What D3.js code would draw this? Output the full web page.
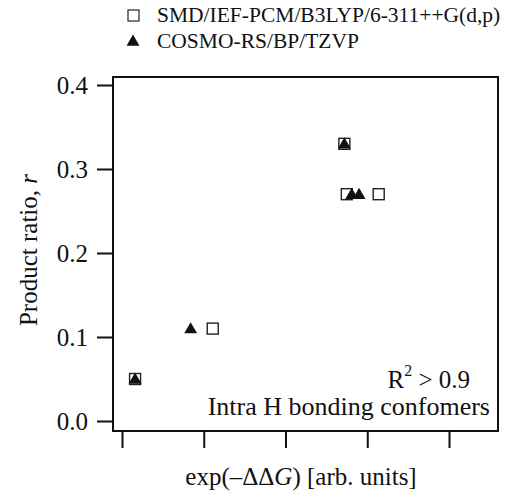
<!DOCTYPE html>
<html lang="en">
  <head>
    <meta charset="utf-8">
    <title>Chart</title>
    <script type="text/javascript" src="https://d3js.org/d3.v7.min.js"></script>
    <style>
      body { margin: 0; background: #fff; }
      svg text { font-family: "Liberation Serif", "Times New Roman", serif !important; fill: #111; }
    </style>
  </head>
  <body>
    <script type="text/javascript">
    var w = 507;
    var h = 496;

    var seriesNames = ["SMD/IEF-PCM/B3LYP/6-311++G(d,p)", "COSMO-RS/BP/TZVP"];
    // x in arbitrary units (tick spacing = 1), y = product ratio r
    var smdX = [0.16, 1.11, 2.72, 2.75, 3.14];
    var smdY = [0.05, 0.11, 0.33, 0.27, 0.27];
    var cosmoX = [0.16, 0.84, 2.72, 2.81, 2.90];
    var cosmoY = [0.05, 0.11, 0.33, 0.27, 0.27];
    var yTicks = [0.0, 0.1, 0.2, 0.3, 0.4];
    var xTicks = [0, 1, 2, 3, 4];

    var frame = {left: 113, right: 498, top: 77, bottom: 431};

    var xscale = d3.scaleLinear().domain([0, 4]).range([122, 449]);
    var yscale = d3.scaleLinear().domain([0, 0.4]).range([421, 85]);

    var svg = d3.select("body").append("svg").attr("width", w).attr("height", h);

    // frame
    svg.append("rect")
      .attr("x", frame.left).attr("y", frame.top)
      .attr("width", frame.right - frame.left).attr("height", frame.bottom - frame.top)
      .attr("fill", "none").attr("stroke", "#111").attr("stroke-width", 2);

    // y axis, outside the frame
    var yAxis = d3.axisLeft(yscale).tickValues(yTicks).tickFormat(d3.format(".1f"))
      .tickSize(16).tickPadding(9);
    var gy = svg.append("g").attr("transform", "translate(" + frame.left + ",0)").call(yAxis)
      .attr("font-family", "Liberation Serif").attr("font-size", 25);
    gy.select(".domain").remove();
    gy.selectAll("line").attr("stroke", "#111").attr("stroke-width", 2);
    gy.selectAll("text").attr("fill", "#111")
      .style("font-family", "'Liberation Serif', serif", "important");

    // x axis, no labels
    var xAxis = d3.axisBottom(xscale).tickValues(xTicks).tickFormat("").tickSize(17);
    var gx = svg.append("g").attr("transform", "translate(0," + frame.bottom + ")").call(xAxis);
    gx.select(".domain").remove();
    gx.selectAll("line").attr("stroke", "#111").attr("stroke-width", 2);

    var smd = smdX.map(function(x, i) { return [x, smdY[i]]; });
    var cosmo = cosmoX.map(function(x, i) { return [x, cosmoY[i]]; });

    var sq = 11;
    svg.selectAll("rect.smd")
      .data(smd)
      .enter()
      .append("rect")
      .attr("class", "smd")
      .attr("x", function(d) { return xscale(d[0]) - sq / 2; })
      .attr("y", function(d) { return yscale(d[1]) - sq / 2; })
      .attr("width", sq).attr("height", sq)
      .attr("fill", "#fff").attr("stroke", "#222").attr("stroke-width", 1.4);

    var tri = d3.symbol().type(d3.symbolTriangle).size(72);
    svg.selectAll("path.cosmo")
      .data(cosmo)
      .enter()
      .append("path")
      .attr("class", "cosmo")
      .attr("d", tri)
      .attr("transform", function(d) { return "translate(" + xscale(d[0]) + "," + (yscale(d[1]) + 1) + ")"; })
      .attr("fill", "#111");

    // legend
    svg.append("rect").attr("x", 128).attr("y", 10).attr("width", 11).attr("height", 11)
      .attr("fill", "#fff").attr("stroke", "#222").attr("stroke-width", 1.2);
    svg.append("text").attr("x", 157).attr("y", 22).style("font-size", "21.5px").text(seriesNames[0]);
    svg.append("path").attr("d", tri).attr("transform", "translate(133,42)").attr("fill", "#111");
    svg.append("text").attr("x", 157).attr("y", 48).style("font-size", "21.5px").text(seriesNames[1]);

    // annotations
    var r2 = svg.append("text").attr("x", 470).attr("y", 388).attr("text-anchor", "end").style("font-size", "25px");
    r2.append("tspan").text("R");
    r2.append("tspan").attr("dy", -12).style("font-size", "16px").text("2");
    r2.append("tspan").attr("dy", 12).text(" > 0.9");
    svg.append("text").attr("x", 490).attr("y", 415).attr("text-anchor", "end").style("font-size", "26px")
      .text("Intra H bonding confomers");

    // axis titles
    var yt = svg.append("text").attr("transform", "translate(37,250) rotate(-90)")
      .attr("text-anchor", "middle").style("font-size", "25px");
    yt.append("tspan").text("Product ratio, ");
    yt.append("tspan").style("font-style", "italic").text("r");

    var xt = svg.append("text").attr("x", 301).attr("y", 485).attr("text-anchor", "middle").style("font-size", "25px");
    xt.append("tspan").text("exp(\u2013\u0394\u0394");
    xt.append("tspan").style("font-style", "italic").text("G");
    xt.append("tspan").text(") [arb. units]");
    </script>
  </body>
</html>
